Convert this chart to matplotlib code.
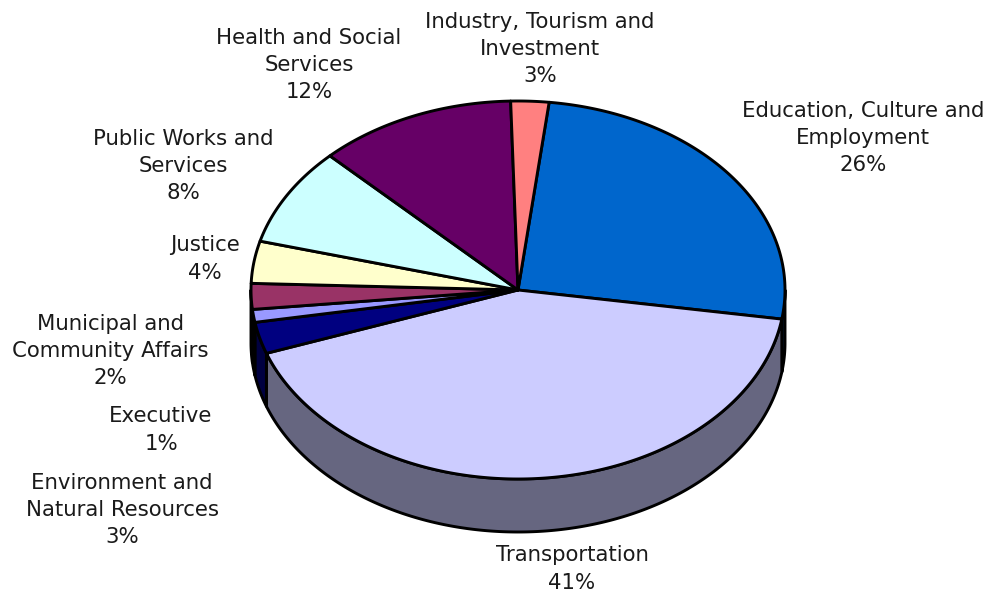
import numpy as np
import matplotlib
matplotlib.use("Agg")
import matplotlib.pyplot as plt
from matplotlib.patches import Polygon

# Slices, clockwise from the start angle (values are the shares as drawn)
LABELS = ["Education, Culture and\nEmployment\n26%",
          "Transportation\n41%",
          "Environment and\nNatural Resources\n3%",
          "Executive\n1%",
          "Municipal and\nCommunity Affairs\n2%",
          "Justice\n4%",
          "Public Works and\nServices\n8%",
          "Health and Social\nServices\n12%",
          "Industry, Tourism and\nInvestment\n3%"]
VALUES = [25.6, 42.1, 2.7, 1.1, 2.2, 3.6, 8.4, 12.0, 2.3]
COLORS = ["#0066CC", "#CCCCFF", "#000080", "#9999FF", "#993366",
          "#FFFFCC", "#CCFFFF", "#660066", "#FF8080"]
LABEL_X = [863, 572, 122, 161, 110, 205, 183, 309, 540]
LABEL_Y = [138, 569, 510, 430, 351, 259, 166, 65, 49]

# Pie geometry (pixels)
CX, CY = 518, 290
RX, RY = 267, 189
DEPTH = 53
START_ANGLE = 6.7   # degrees clockwise from top
EDGE = 2.1


def ellipse_pts(a1, a2, dy=0):
    """Points on the rim between two angles (degrees clockwise from top)."""
    t = np.radians(np.linspace(a1, a2, max(int(abs(a2 - a1) * 2), 2)))
    return np.column_stack([CX + RX * np.sin(t), CY - RY * np.cos(t) + dy])


def darker(color):
    r, g, b = matplotlib.colors.to_rgb(color)
    return (r * 0.5, g * 0.5, b * 0.5)


fig = plt.figure(figsize=(9.88, 5.94), dpi=100)
ax = fig.add_axes([0, 0, 1, 1])
ax.set_xlim(0, 988)
ax.set_ylim(594, 0)
ax.axis("off")

edges = START_ANGLE + np.concatenate([[0], np.cumsum(VALUES)]) * 3.6

# side wall, only the part facing the viewer
for i, color in enumerate(COLORS):
    a1, a2 = max(edges[i], 90), min(edges[i + 1], 270)
    if a2 <= a1:
        continue
    pts = np.vstack([ellipse_pts(a1, a2), ellipse_pts(a2, a1, DEPTH)])
    ax.add_patch(Polygon(pts, closed=True, facecolor=darker(color),
                         edgecolor="black", linewidth=EDGE, joinstyle="round"))

# top face
for i, color in enumerate(COLORS):
    pts = np.vstack([[[CX, CY]], ellipse_pts(edges[i], edges[i + 1])])
    ax.add_patch(Polygon(pts, closed=True, facecolor=color,
                         edgecolor="black", linewidth=EDGE, joinstyle="round"))

for label, x, y in zip(LABELS, LABEL_X, LABEL_Y):
    ax.text(x, y, label, ha="center", va="center", fontsize=15.3,
            family=["DejaVu Sans"], color="#1a1a1a", linespacing=1.44)

fig.savefig("out.png", dpi=100)
